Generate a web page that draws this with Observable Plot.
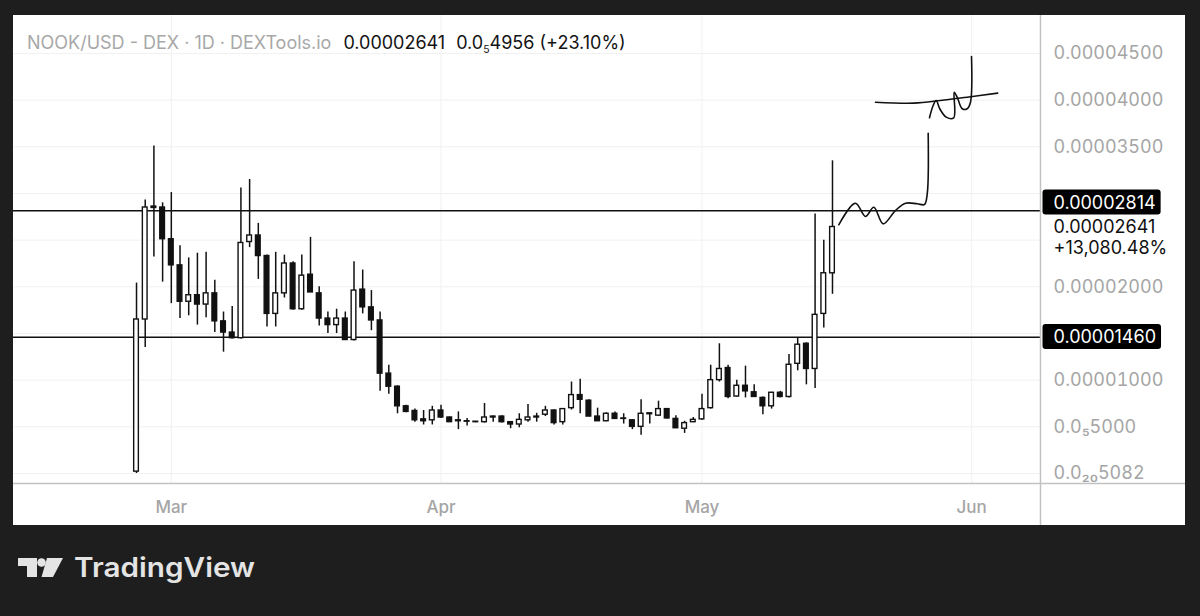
<!DOCTYPE html>
<html>
<head>
<meta charset="utf-8">
<script src="https://cdn.jsdelivr.net/npm/d3@7"></script>
<script src="https://cdn.jsdelivr.net/npm/@observablehq/plot@0.6"></script>
<style>
  html, body { margin: 0; padding: 0; background: #1e1e1e; width: 1200px; height: 616px; overflow: hidden; }
  body { font-family: Inter, "Noto Sans", sans-serif; position: relative; }
  #panel { position: absolute; left: 13px; top: 15px; width: 1172px; height: 510px; background: #fff; overflow: hidden; }
  #chart { position: absolute; left: 0; top: 0; }
  #title { position: absolute; left: 14px; top: 16px; font-size: 18px; line-height: 24px; white-space: pre; color: #131313; }
  #title .sym { color: #a8a8a8; }
  #title .sub { font-size: 10.5px; position: relative; top: 4px; }
  #logo { position: absolute; left: 0; top: 540px; }
</style>
</head>
<body>
<div id="panel">
  <div id="chart"></div>
  <div id="title"></div>
</div>
<svg id="logo" width="280" height="60" viewBox="0 540 280 60">
  <path d="M18 558H37V577H27V566H18Z" fill="#e4e4e4"/>
  <circle cx="41.5" cy="562.5" r="4.3" fill="#e4e4e4"/>
  <path d="M47 558H63L53 577H41.5Z" fill="#e4e4e4"/>
  <text x="74" y="577" font-family="Inter, sans-serif" font-weight="600" font-size="27" fill="#e4e4e4" textLength="181" lengthAdjust="spacingAndGlyphs">TradingView</text>
</svg>
<script>
// ---------- data (prices in millionths of a USD) ----------
const symbolText = "NOOK/USD - DEX · 1D · DEXTools.io";
const lastPriceText = "0.00002641";
const changeLead = "0.0", changeZeros = "5", changeDigits = "4956", changePctText = "(+23.10%)";

const firstDay = "2024-02-26";
const opens  = [0.2004,16.5,28.6,28.5,25.1,22.3,18.4,19.1,18.1,19.3,16.3,15.1,14.5,24.8,25.5,23.3,17.1,19.3,22.5,17.6,
                21.3,19.3,16.6,15.9,16.6,14.3,19.7,17.8,16.4,10.7,9.3,7.2,6.7,5.8,5.7,6.75,6.0,5.6,5.55,5.5,
                5.5,6.0,6.1,5.5,5.25,5.7,6.0,6.3,6.75,5.5,7.0,8.4,7.8,6.1,5.6,6.4,5.85,5.7,5.0,6.35,
                6.2,6.9,5.85,4.8,5.5,5.8,7.0,10.0,11.3,8.25,9.4,8.7,8.1,7.2,8.65,8.2,11.75,13.9,11.2,17.1,21.45];
const highs  = [20.4,29.3,35.1,29.0,30.1,24.4,23.1,23.6,23.7,20.7,17.3,17.9,30.6,31.5,26.8,23.4,23.7,23.4,22.7,23.4,
                25.3,20.0,17.3,17.6,17.3,22.7,21.8,19.6,17.3,11.6,9.4,7.3,6.9,6.75,7.2,7.3,6.05,6.6,5.9,5.55,
                7.5,6.15,6.2,5.55,6.4,7.4,6.45,7.2,6.8,6.95,9.8,10.1,7.9,7.0,6.5,6.6,6.4,5.75,7.9,6.45,
                7.75,6.95,6.2,5.6,6.0,8.5,11.6,13.9,11.6,10.0,11.5,9.5,8.2,8.7,8.8,12.75,14.55,14.0,27.8,25.0,33.5];
const lows   = [0.0,13.5,23.2,20.5,18.2,16.6,16.9,15.9,16.7,15.1,13.0,14.4,14.4,24.2,20.8,15.7,15.7,18.8,17.5,17.5,
                19.4,15.8,15.0,15.0,14.3,14.2,17.1,15.3,8.8,8.5,6.4,6.5,5.5,5.2,5.2,5.9,5.5,4.7,5.1,5.45,
                5.4,5.5,5.4,4.8,4.9,5.5,5.5,6.1,5.2,5.2,6.8,6.4,6.1,5.6,5.55,5.8,5.3,4.7,4.1,5.3,
                6.1,5.85,4.85,4.3,5.45,5.7,6.9,9.8,8.0,8.2,8.1,8.15,6.3,6.9,8.1,8.1,11.0,9.5,9.1,15.6,19.2];
const closes = [16.5,28.5,28.45,25.1,22.3,18.4,19.1,18.1,19.3,16.3,15.1,14.5,24.7,25.5,23.3,17.1,19.3,22.5,17.6,21.2,
                19.4,16.6,15.9,16.6,14.3,19.6,17.8,16.4,10.7,9.3,7.2,6.6,5.7,5.6,6.75,6.0,5.5,5.7,5.6,5.55,
                6.0,6.1,5.5,5.25,5.75,6.0,6.1,6.75,5.4,6.9,8.4,7.9,6.1,5.6,6.4,5.85,5.9,5.0,6.4,6.45,
                6.9,5.9,4.85,5.4,5.75,6.9,10.0,11.2,8.2,9.4,8.8,8.2,7.2,8.65,8.2,11.65,13.8,11.2,17.0,21.454,26.41];

const levelValues = [28.14, 14.60];
const levelLabels = ["0.00002814", "0.00001460"];
const lastValue = 26.41;
const lastLabels = ["0.00002641", "+13,080.48%"];

const yTickValues = [45, 40, 35, 20, 10, 5, 0.0];
const yTickLabels = ["0.00004500", "0.00004000", "0.00003500", "0.00002000", "0.00001000", "0.0\u20855000", "0.0\u2082\u20805082"];
const gridValues  = [0, 5, 10, 15, 20, 25, 30, 35, 40, 45];

const monthTicks  = ["2024-03-01", "2024-04-01", "2024-05-01", "2024-06-01"];
const monthLabels = ["Mar", "Apr", "May", "Jun"];

// hand-drawn projection strokes: day offsets from firstDay, price (millionths)
const sketchId    = [0,0,0,0,0,0,0,0,0,0,0, 1,1,1,1,1,1,1,1,1,1,1,1, 2,2,2,2,2];
const sketchDay   = [80.72,82.64,83.79,84.75,85.83,87.24,88.39,89.74,90.57,90.89,91.0,
                     91.15,91.57,91.92,92.33,93.07,93.94,93.99,94.33,94.91,95.48,95.86,95.98,
                     84.94,89.34,92.41,95.48,98.99];
const sketchValue = [26.65,28.96,27.54,28.53,26.75,28.18,28.96,28.90,28.82,29.97,36.46,
                     38.11,39.43,39.96,39.08,38.18,38.11,40.85,40.32,39.08,39.08,39.78,44.68,
                     39.78,39.68,39.96,40.32,40.75];

// ---------- build ----------
const U = 1e-6, DAY = 864e5;
const t0 = new Date(firstDay + "T00:00:00Z");
const dayAt = d => new Date(+t0 + d * DAY);
const dates = d3.utcDay.range(t0, dayAt(opens.length));
const rows = dates.map((date, i) => ({date, open: opens[i]*U, high: highs[i]*U, low: lows[i]*U, close: closes[i]*U}));
const up = rows.filter(d => d.close >= d.open);
const down = rows.filter(d => d.close < d.open);
const sketch = sketchId.map((id, i) => ({id, date: dayAt(sketchDay[i]), value: sketchValue[i]*U}));
const months = monthTicks.map(s => new Date(s + "T00:00:00Z"));
const monthMap = new Map(months.map((d, i) => [+d, monthLabels[i]]));
const yTicks = yTickValues.map(v => v*U);
const yMap = new Map(yTicks.map((v, i) => [v, yTickLabels[i]]));

const W = 1172, H = 510, mR = 145, mB = 42;
const xMin = dayAt(-14.14), xMax = dayAt(103.91), xPanelEnd = dayAt(120.6);
const yMin = -1.071*U, yMax = 49.07*U, yPanelBottom = -5.57*U;
const half = 0.27 * DAY;
const gray = "#a5a5a5";

document.getElementById("title").innerHTML =
  `<span class="sym">${symbolText}</span><span style="margin-left:12px">${lastPriceText}</span>` +
  `<span style="margin-left:11px">${changeLead}<span class="sub">${changeZeros}</span>${changeDigits} ${changePctText}</span>`;

const chart = Plot.plot({
  width: W, height: H,
  marginLeft: 0, marginRight: mR, marginTop: 0, marginBottom: mB,
  style: {fontFamily: "Inter, 'Noto Sans', sans-serif", fontSize: "18px", background: "transparent", overflow: "visible"},
  x: {type: "utc", domain: [xMin, xMax]},
  y: {domain: [yMin, yMax]},
  marks: [
    Plot.ruleY(gridValues.map(v => v*U), {stroke: "#f1f1f1", strokeWidth: 1}),
    Plot.ruleX(months, {stroke: "#f1f1f1", strokeWidth: 1, y1: yMin, y2: yMax}),
    Plot.ruleY(levelValues.map(v => v*U), {stroke: "#111", strokeWidth: 1.5}),
    Plot.ruleX(rows, {x: "date", y1: "low", y2: "high", stroke: "#111", strokeWidth: 1.5}),
    Plot.rect(up, {x1: d => new Date(+d.date - half), x2: d => new Date(+d.date + half), y1: "open", y2: "close", fill: "#fff", stroke: "#111", strokeWidth: 1.4}),
    Plot.rect(down, {x1: d => new Date(+d.date - half), x2: d => new Date(+d.date + half), y1: "open", y2: "close", fill: "#111", stroke: "#111", strokeWidth: 1.4}),
    Plot.line(sketch, {x: "date", y: "value", z: "id", curve: "catmull-rom", stroke: "#111", strokeWidth: 1.6}),
    // panel separators
    Plot.ruleX([xMax], {y1: yPanelBottom, y2: yMax, stroke: "#c2c2c2", strokeWidth: 1.5}),
    Plot.ruleY([yMin], {x1: xMin, x2: xPanelEnd, stroke: "#c2c2c2", strokeWidth: 1.5}),
    // axes
    Plot.axisY(yTicks, {anchor: "right", tickSize: 0, tickPadding: 13, tickFormat: v => yMap.get(v), fill: gray, fontSize: 18, textAnchor: "start"}),
    Plot.axisX(months, {anchor: "bottom", tickSize: 0, tickPadding: 17, tickFormat: d => monthMap.get(+d), fill: gray, fontSize: 17, fontWeight: 500}),
    // price labels
    Plot.text([levelValues[0]*U], {y: d => d, text: [levelLabels[0]], frameAnchor: "right", dx: 13, dy: -8, textAnchor: "start", fill: "#fff", fontSize: 18, className: "pricebox"}),
    Plot.text([levelValues[1]*U], {y: d => d, text: [levelLabels[1]], frameAnchor: "right", dx: 13, textAnchor: "start", fill: "#fff", fontSize: 18, className: "pricebox"}),
    Plot.text([lastValue*U], {y: d => d, text: [lastLabels[0]], frameAnchor: "right", dx: 13, textAnchor: "start", fill: "#111", fontSize: 18}),
    Plot.text([lastValue*U], {y: d => d, text: [lastLabels[1]], frameAnchor: "right", dx: 13, dy: 21, textAnchor: "start", fill: "#111", fontSize: 18})
  ]
});
document.getElementById("chart").appendChild(chart);

// dark rounded boxes behind the level price labels
chart.querySelectorAll("g.pricebox text").forEach(t => {
  const b = t.getBBox();
  const r = document.createElementNS("http://www.w3.org/2000/svg", "rect");
  const cy = b.y + b.height / 2;
  r.setAttribute("x", b.x - 11);
  r.setAttribute("y", cy - 12.5);
  r.setAttribute("width", b.width + 16);
  r.setAttribute("height", 25);
  r.setAttribute("rx", 3);
  r.setAttribute("fill", "#000");
  if (t.getAttribute("transform")) r.setAttribute("transform", t.getAttribute("transform"));
  t.parentNode.insertBefore(r, t);
});
</script>
</body>
</html>
